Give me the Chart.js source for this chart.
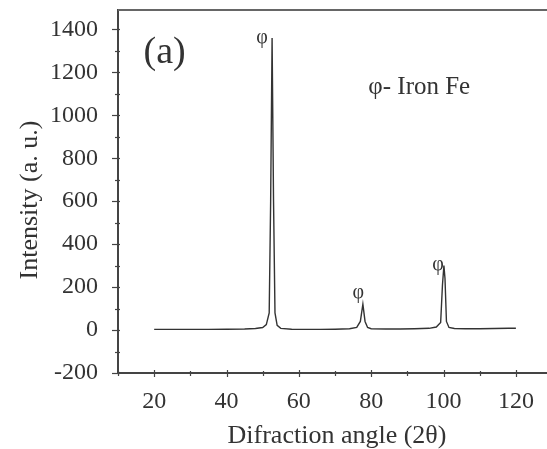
<!DOCTYPE html>
<html>
<head>
<meta charset="utf-8">
<script src="https://cdn.jsdelivr.net/npm/chart.js@4/dist/chart.umd.min.js"></script>
<style>
  html, body { margin: 0; padding: 0; background: #fff; }
  #wrap { width: 547px; height: 449px; }
</style>
</head>
<body>
<div id="wrap"><canvas id="xrd"></canvas></div>
<script>
// diffraction pattern
const angle = [20, 25, 30, 35, 40, 45, 48, 50, 51, 51.8, 52.2, 52.6, 53.0, 53.4, 54, 55, 58, 62, 66, 70, 74, 76, 77, 77.7, 78.3, 79, 80, 84, 88, 92, 96, 98, 99.2, 99.7, 100.1, 100.4, 100.8, 101.5, 103, 106, 110, 114, 118, 120];
const intensity = [3, 3, 3, 3, 4, 5, 7, 12, 25, 80, 600, 1360, 600, 80, 22, 8, 4, 3, 3, 4, 6, 12, 40, 120, 40, 12, 6, 5, 5, 6, 8, 14, 35, 210, 300, 240, 40, 12, 7, 6, 6, 7, 8, 8];

const xTicks = [20, 40, 60, 80, 100, 120];
const xMinor = [10, 30, 50, 70, 90, 110];
const yTicks = [-200, 0, 200, 400, 600, 800, 1000, 1200, 1400];
const yMinor = [-100, 100, 300, 500, 700, 900, 1100, 1300];

const peakLabelAngle = [49.8, 76.4, 98.5];
const peakLabelIntensity = [1362, 172, 302];

const serif = '"Liberation Serif", "DejaVu Serif", serif';
const ink = '#333';

const decor = {
  id: 'decor',
  afterDraw(chart) {
    const ctx = chart.ctx;
    const xs = chart.scales.x, ys = chart.scales.y;
    const area = chart.chartArea;
    ctx.save();
    // top frame line
    ctx.strokeStyle = '#666';
    ctx.lineWidth = 2;
    ctx.beginPath();
    ctx.moveTo(area.left, area.top);
    ctx.lineTo(area.right, area.top);
    ctx.stroke();

    // ticks
    ctx.lineWidth = 1.2;
    ctx.strokeStyle = '#444';
    const yAxis = area.left, xAxis = area.bottom;
    yTicks.forEach(v => {
      const p = Math.round(ys.getPixelForValue(v)) + 0.5;
      ctx.beginPath(); ctx.moveTo(yAxis - 6, p); ctx.lineTo(yAxis + 2, p); ctx.stroke();
    });
    yMinor.forEach(v => {
      const p = Math.round(ys.getPixelForValue(v)) + 0.5;
      ctx.beginPath(); ctx.moveTo(yAxis - 3, p); ctx.lineTo(yAxis + 2, p); ctx.stroke();
    });
    xTicks.forEach(v => {
      const p = Math.round(xs.getPixelForValue(v)) + 0.5;
      ctx.beginPath(); ctx.moveTo(p, xAxis - 3); ctx.lineTo(p, xAxis + 4); ctx.stroke();
    });
    xMinor.forEach(v => {
      const p = Math.round(xs.getPixelForValue(v)) + 0.5;
      ctx.beginPath(); ctx.moveTo(p, xAxis - 2); ctx.lineTo(p, xAxis + 3); ctx.stroke();
    });

    // peak markers
    ctx.fillStyle = ink;
    ctx.textAlign = 'center';
    ctx.textBaseline = 'middle';
    ctx.font = '20px ' + serif;
    peakLabelAngle.forEach((a, i) => {
      ctx.fillText('φ', xs.getPixelForValue(a), ys.getPixelForValue(peakLabelIntensity[i]));
    });

    // panel letter and legend note
    ctx.font = '38px ' + serif;
    ctx.fillText('(a)', xs.getPixelForValue(22.9), ys.getPixelForValue(1290));
    ctx.font = '25px ' + serif;
    ctx.textAlign = 'left';
    ctx.fillText('φ- Iron Fe', xs.getPixelForValue(79.2), ys.getPixelForValue(1130));

    // axis titles
    ctx.font = '26px ' + serif;
    ctx.textAlign = 'center';
    ctx.textBaseline = 'alphabetic';
    ctx.fillText('Difraction angle (2θ)', 337, 443);
    ctx.translate(37, 200);
    ctx.rotate(-Math.PI / 2);
    ctx.fillText('Intensity (a. u.)', 0, 0);
    ctx.restore();
  }
};

new Chart(document.getElementById('xrd'), {
  type: 'line',
  data: {
    datasets: [{
      data: angle.map((a, i) => ({ x: a, y: intensity[i] })),
      borderColor: ink,
      borderWidth: 1.4,
      pointRadius: 0,
      tension: 0,
      fill: false
    }]
  },
  options: {
    responsive: true,
    maintainAspectRatio: false,
    animation: false,
    layout: { padding: { top: 10, right: 0, left: 0, bottom: 0 } },
    plugins: { legend: { display: false }, tooltip: { enabled: false } },
    scales: {
      x: {
        type: 'linear',
        min: 10,
        max: 128.6,
        afterBuildTicks: s => { s.ticks = xTicks.map(v => ({ value: v })); },
        afterFit: s => { s.height = 76; s.paddingLeft = 0; s.paddingRight = 0; },
        grid: { display: false },
        border: { display: true, color: '#444', width: 2 },
        ticks: { font: { family: serif, size: 24 }, color: ink, padding: 6, maxRotation: 0, callback: v => String(v) }
      },
      y: {
        type: 'linear',
        min: -200,
        max: 1490,
        afterBuildTicks: s => { s.ticks = yTicks.map(v => ({ value: v })); },
        afterFit: s => { s.width = 118; s.paddingTop = 0; s.paddingBottom = 0; },
        grid: { display: false },
        border: { display: true, color: '#444', width: 2 },
        ticks: { font: { family: serif, size: 24 }, color: ink, padding: 12, callback: v => String(v) }
      }
    }
  },
  plugins: [decor]
});
</script>
</body>
</html>
